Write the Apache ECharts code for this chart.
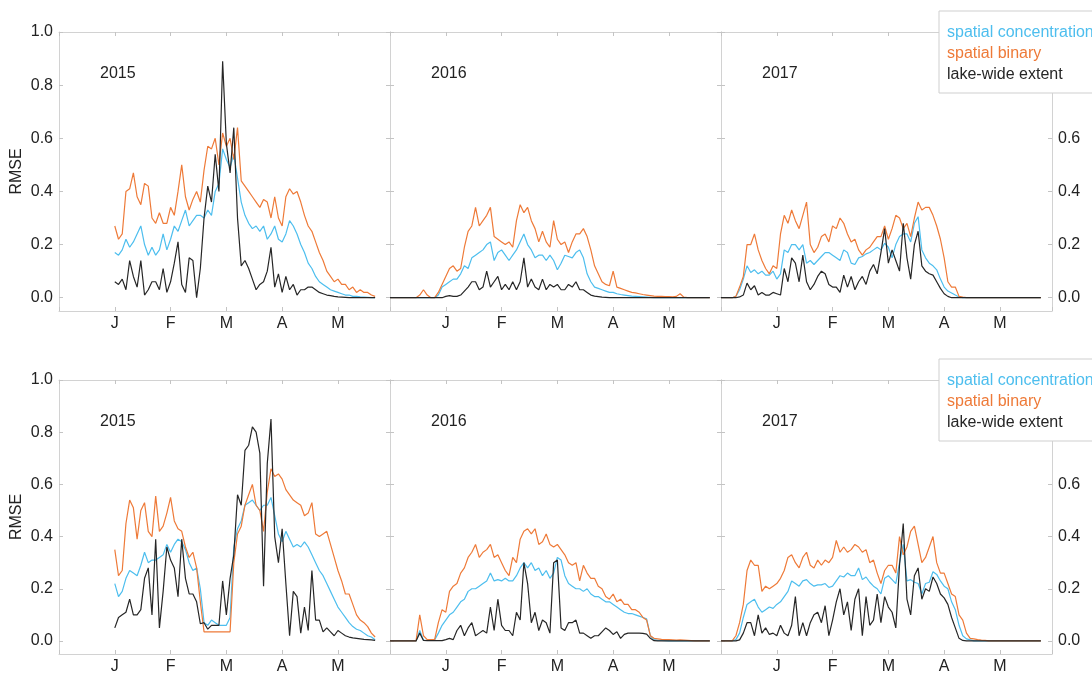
<!DOCTYPE html>
<html>
<head>
<meta charset="utf-8">
<script src="https://cdn.jsdelivr.net/npm/echarts@6/dist/echarts.min.js"></script>
<style>
  html, body { margin: 0; padding: 0; background: #ffffff; }
  #chart { width: 1092px; height: 675px; }
</style>
</head>
<body>
<div id="chart"></div>
<script>
// RMSE of three ice-cover products, winter seasons 2015-2017 (two scenarios, top and bottom rows).
// Values are sampled every DAY_STEP days on an axis running Dec 1 -> end of May.
const DAY_STEP = 2;
const years = ['2015', '2016', '2017'];
const monthLabels = ['J', 'F', 'M', 'A', 'M'];
const yTickValues = [0, 0.2, 0.4, 0.6, 0.8, 1.0];
const seriesNames = ['spatial concentration', 'spatial binary', 'lake-wide extent'];

// first sampled day of each season's curves
const start2015 = 30;
const start2016 = 0;
const start2017 = 0;

// ---------- upper row ----------
const conc15Top = [
  0.17,0.16,0.18,0.22,0.19,0.21,0.24,0.27,0.20,0.16,
  0.19,0.16,0.18,0.24,0.18,0.22,0.27,0.25,0.29,0.33,
  0.27,0.29,0.31,0.31,0.30,0.33,0.31,0.40,0.43,0.56,
  0.52,0.49,0.54,0.45,0.36,0.31,0.28,0.26,0.27,0.25,
  0.27,0.22,0.24,0.27,0.22,0.21,0.24,0.29,0.27,0.24,
  0.20,0.17,0.13,0.11,0.08,0.06,0.05,0.04,0.03,0.025,
  0.02,0.015,0.01,0.01,0.005,0.005,0.003,0.002,0.001,0,
  0];
const binary15Top = [
  0.27,0.22,0.24,0.40,0.41,0.47,0.38,0.35,0.43,0.42,
  0.30,0.28,0.32,0.28,0.28,0.34,0.31,0.40,0.50,0.38,
  0.33,0.37,0.40,0.36,0.48,0.57,0.56,0.60,0.50,0.62,
  0.57,0.60,0.52,0.64,0.44,0.42,0.40,0.38,0.36,0.34,
  0.37,0.36,0.30,0.38,0.30,0.27,0.38,0.41,0.39,0.40,
  0.36,0.31,0.27,0.25,0.21,0.17,0.14,0.10,0.08,0.06,
  0.07,0.05,0.05,0.03,0.04,0.02,0.03,0.02,0.02,0.01,
  0.005];
const extent15Top = [
  0.06,0.05,0.07,0.03,0.14,0.08,0.04,0.14,0.01,0.03,
  0.06,0.06,0.03,0.11,0.02,0.06,0.13,0.21,0.05,0.02,
  0.15,0.14,0.00,0.11,0.30,0.42,0.36,0.54,0.40,0.89,
  0.58,0.47,0.64,0.30,0.12,0.14,0.11,0.07,0.03,0.05,
  0.06,0.10,0.19,0.04,0.09,0.02,0.08,0.03,0.05,0.01,
  0.03,0.03,0.04,0.04,0.03,0.02,0.015,0.01,0.008,0.005,
  0.003,0.002,0.001,0,0,0,0,0,0,0,
  0];

const conc16Top = [
  0,0,0,0,0,0,0,0,0,0,
  0,0,0,0.01,0.04,0.05,0.06,0.07,0.07,0.09,
  0.12,0.11,0.15,0.16,0.17,0.18,0.20,0.21,0.14,0.17,
  0.18,0.16,0.14,0.16,0.18,0.21,0.24,0.20,0.18,0.15,
  0.16,0.16,0.14,0.16,0.14,0.105,0.13,0.16,0.155,0.15,
  0.17,0.18,0.15,0.09,0.06,0.04,0.035,0.03,0.025,0.02,
  0.02,0.015,0.012,0.01,0.008,0.006,0.005,0.004,0.003,0.002,
  0.001,0,0,0,0,0,0,0,0,0,
  0,0,0,0,0,0,0];
const binary16Top = [
  0,0,0,0,0,0,0,0,0.01,0.03,
  0.01,0,0,0.02,0.05,0.08,0.11,0.12,0.10,0.11,
  0.19,0.25,0.27,0.34,0.27,0.29,0.31,0.34,0.23,0.22,
  0.21,0.20,0.21,0.19,0.29,0.35,0.32,0.34,0.29,0.26,
  0.21,0.25,0.21,0.19,0.29,0.22,0.20,0.21,0.17,0.21,
  0.24,0.24,0.26,0.23,0.18,0.12,0.09,0.06,0.05,0.045,
  0.10,0.04,0.035,0.03,0.025,0.02,0.018,0.015,0.012,0.01,
  0.008,0.006,0.005,0.005,0.004,0.004,0.003,0.005,0.015,0.002,
  0,0,0,0,0,0,0];
const extent16Top = [
  0,0,0,0,0,0,0,0,0,0,
  0,0,0,0,0,0.005,0.008,0.005,0.005,0.01,
  0.025,0.04,0.06,0.06,0.03,0.04,0.10,0.04,0.06,0.08,
  0.03,0.05,0.03,0.06,0.03,0.06,0.15,0.04,0.07,0.04,
  0.03,0.07,0.03,0.05,0.04,0.05,0.03,0.03,0.05,0.04,
  0.06,0.03,0.03,0.02,0.01,0.006,0.004,0.002,0.001,0,
  0,0,0,0,0,0,0,0,0,0,
  0,0,0,0,0,0,0,0,0,0,
  0,0,0,0,0,0,0];

const conc17Top = [
  0,0,0,0,0.005,0.03,0.07,0.12,0.095,0.105,
  0.09,0.10,0.085,0.085,0.10,0.07,0.09,0.18,0.17,0.20,
  0.20,0.18,0.20,0.13,0.14,0.125,0.14,0.155,0.17,0.17,
  0.16,0.15,0.14,0.18,0.17,0.13,0.125,0.15,0.155,0.165,
  0.17,0.18,0.19,0.18,0.205,0.19,0.15,0.20,0.23,0.24,
  0.24,0.21,0.28,0.305,0.18,0.15,0.13,0.12,0.105,0.07,
  0.04,0.025,0.018,0.01,0.003,0,0,0,0,0,
  0,0,0,0,0,0,0,0,0,0,
  0,0,0,0,0,0,0];
const binary17Top = [
  0,0,0,0,0.005,0.04,0.08,0.20,0.20,0.24,
  0.18,0.14,0.11,0.09,0.12,0.11,0.24,0.31,0.28,0.33,
  0.29,0.26,0.31,0.36,0.20,0.17,0.19,0.23,0.24,0.21,
  0.27,0.26,0.30,0.28,0.24,0.21,0.22,0.18,0.16,0.18,
  0.19,0.21,0.23,0.23,0.27,0.22,0.26,0.31,0.30,0.26,
  0.28,0.23,0.30,0.36,0.33,0.34,0.34,0.31,0.27,0.22,
  0.15,0.06,0.04,0.04,0.005,0.002,0,0,0,0,
  0,0,0,0,0,0,0,0,0,0,
  0,0,0,0,0,0,0];
const extent17Top = [
  0,0,0,0,0,0.003,0.01,0.055,0.03,0.045,
  0.01,0.02,0.01,0.01,0.02,0.015,0.01,0.11,0.06,0.15,
  0.13,0.06,0.16,0.06,0.03,0.05,0.08,0.10,0.09,0.05,
  0.04,0.04,0.02,0.085,0.04,0.08,0.03,0.06,0.08,0.05,
  0.10,0.125,0.09,0.17,0.26,0.13,0.18,0.14,0.10,0.28,
  0.15,0.07,0.20,0.25,0.12,0.10,0.09,0.085,0.06,0.035,
  0.015,0.005,0,0,0,0,0,0,0,0,
  0,0,0,0,0,0,0,0,0,0,
  0,0,0,0,0,0,0];

// ---------- lower row ----------
const conc15Bot = [
  0.22,0.17,0.19,0.24,0.27,0.26,0.25,0.29,0.34,0.30,
  0.31,0.31,0.32,0.33,0.37,0.34,0.37,0.39,0.38,0.35,
  0.30,0.27,0.28,0.20,0.07,0.06,0.08,0.07,0.06,0.06,
  0.06,0.09,0.36,0.43,0.46,0.52,0.53,0.54,0.52,0.50,
  0.52,0.52,0.55,0.48,0.41,0.38,0.42,0.39,0.36,0.37,
  0.36,0.38,0.36,0.33,0.30,0.27,0.25,0.22,0.19,0.16,
  0.13,0.11,0.09,0.07,0.055,0.045,0.04,0.03,0.02,0.015,
  0.005];
const binary15Bot = [
  0.35,0.25,0.27,0.45,0.54,0.51,0.39,0.50,0.53,0.42,
  0.40,0.555,0.42,0.44,0.49,0.55,0.46,0.43,0.42,0.36,
  0.32,0.34,0.28,0.15,0.035,0.035,0.035,0.035,0.035,0.035,
  0.035,0.035,0.30,0.41,0.44,0.52,0.56,0.60,0.52,0.50,
  0.42,0.57,0.66,0.63,0.64,0.62,0.58,0.56,0.54,0.53,
  0.52,0.48,0.49,0.53,0.41,0.40,0.41,0.42,0.37,0.32,
  0.27,0.23,0.18,0.18,0.14,0.10,0.08,0.07,0.055,0.03,
  0.015];
const extent15Bot = [
  0.05,0.09,0.10,0.11,0.16,0.10,0.10,0.12,0.24,0.28,
  0.10,0.39,0.05,0.19,0.36,0.31,0.28,0.17,0.39,0.24,
  0.18,0.18,0.15,0.066,0.07,0.045,0.06,0.06,0.06,0.23,
  0.10,0.24,0.33,0.56,0.52,0.73,0.75,0.82,0.80,0.72,
  0.21,0.68,0.85,0.40,0.30,0.43,0.22,0.02,0.19,0.17,
  0.03,0.13,0.04,0.27,0.08,0.08,0.035,0.05,0.035,0.02,
  0.04,0.03,0.02,0.015,0.012,0.01,0.008,0.006,0.005,0.004,
  0.002];

const conc16Bot = [
  0,0,0,0,0,0,0,0,0.04,0.003,
  0.002,0.002,0.004,0.03,0.06,0.08,0.10,0.11,0.13,0.15,
  0.16,0.19,0.20,0.20,0.21,0.22,0.23,0.26,0.23,0.235,
  0.23,0.24,0.23,0.23,0.25,0.28,0.30,0.28,0.30,0.27,
  0.28,0.25,0.27,0.24,0.26,0.32,0.31,0.25,0.22,0.21,
  0.20,0.20,0.19,0.20,0.18,0.17,0.17,0.16,0.15,0.15,
  0.14,0.13,0.12,0.11,0.105,0.105,0.10,0.095,0.09,0.085,
  0.02,0.005,0.002,0.002,0.001,0,0,0,0,0,
  0,0,0,0,0,0,0];
const binary16Bot = [
  0,0,0,0,0,0,0,0,0.10,0.02,
  0.005,0.005,0.005,0.07,0.12,0.11,0.19,0.21,0.22,0.26,
  0.28,0.32,0.34,0.37,0.32,0.34,0.35,0.37,0.32,0.33,
  0.30,0.27,0.25,0.32,0.30,0.39,0.42,0.43,0.41,0.43,
  0.37,0.38,0.41,0.37,0.36,0.37,0.35,0.33,0.30,0.29,
  0.30,0.23,0.29,0.26,0.24,0.24,0.21,0.20,0.17,0.16,
  0.18,0.15,0.16,0.14,0.14,0.12,0.12,0.11,0.09,0.08,
  0.02,0.01,0.008,0.006,0.005,0.005,0.004,0.003,0.004,0.003,
  0.002,0.001,0,0,0,0,0];
const extent16Bot = [
  0,0,0,0,0,0,0,0,0.03,0.002,
  0.001,0.001,0.001,0.001,0.001,0.005,0.01,0.005,0.04,0.06,
  0.02,0.05,0.07,0.02,0.03,0.04,0.03,0.13,0.04,0.16,
  0.06,0.04,0.04,0.02,0.11,0.08,0.30,0.22,0.07,0.11,
  0.04,0.08,0.07,0.03,0.30,0.31,0.05,0.04,0.07,0.07,
  0.08,0.03,0.03,0.02,0.01,0.02,0.02,0.035,0.05,0.04,
  0.025,0.035,0.01,0.025,0.03,0.03,0.03,0.03,0.029,0.026,
  0.01,0.001,0,0,0,0,0,0,0,0,
  0,0,0,0,0,0,0];

const conc17Bot = [
  0,0,0,0,0.005,0.03,0.09,0.14,0.15,0.16,
  0.13,0.11,0.12,0.13,0.125,0.14,0.15,0.17,0.19,0.23,
  0.22,0.21,0.23,0.235,0.22,0.21,0.215,0.215,0.22,0.205,
  0.21,0.23,0.25,0.245,0.26,0.25,0.25,0.28,0.235,0.245,
  0.225,0.21,0.20,0.18,0.24,0.25,0.235,0.22,0.30,0.37,
  0.23,0.235,0.225,0.22,0.18,0.22,0.225,0.265,0.255,0.23,
  0.21,0.20,0.15,0.12,0.06,0.02,0.008,0.004,0,0,
  0,0,0,0,0,0,0,0,0,0,
  0,0,0,0,0,0,0];
const binary17Bot = [
  0,0,0,0,0.02,0.07,0.14,0.27,0.31,0.29,
  0.29,0.19,0.21,0.20,0.21,0.22,0.24,0.27,0.32,0.33,
  0.30,0.28,0.32,0.34,0.29,0.28,0.31,0.29,0.31,0.30,
  0.32,0.385,0.34,0.36,0.34,0.35,0.37,0.36,0.34,0.35,
  0.30,0.31,0.26,0.22,0.27,0.29,0.29,0.26,0.40,0.33,
  0.36,0.42,0.44,0.37,0.30,0.32,0.36,0.40,0.30,0.26,
  0.26,0.22,0.18,0.17,0.10,0.08,0.03,0.01,0.008,0.005,
  0.003,0.002,0,0,0,0,0,0,0,0,
  0,0,0,0,0,0,0];
const extent17Bot = [
  0,0,0,0,0,0.004,0.03,0.07,0.07,0.02,
  0.10,0.03,0.05,0.025,0.03,0.02,0.06,0.03,0.02,0.06,
  0.17,0.02,0.07,0.02,0.07,0.10,0.11,0.07,0.135,0.02,
  0.08,0.15,0.20,0.10,0.15,0.04,0.16,0.20,0.02,0.17,
  0.06,0.08,0.18,0.07,0.17,0.13,0.11,0.05,0.29,0.45,
  0.16,0.10,0.25,0.28,0.16,0.20,0.19,0.245,0.22,0.18,
  0.165,0.14,0.09,0.05,0.01,0.002,0,0,0,0,
  0,0,0,0,0,0,0,0,0,0,
  0,0,0,0,0,0,0];

// ---------- layout & style ----------
const FONT = '"Liberation Sans", Arial, Helvetica, sans-serif';
const TEXT_COLOR = '#222222';
const AXIS_COLOR = '#d2d2d2';
const LINE_COLORS = ['#4DBEEE', '#EE7A38', '#262626'];
const X_MAX = 178;
const MONTH_STEP = 30;
const COL_LEFT = [59, 390, 721];
const ROW_TOP = [32, 380];
const PANEL_W = 331;
const PANEL_H = [279, 280];
const LEGEND_TOP = [11, 359];

const panels = [
  { row: 0, col: 0, year: years[0], start: start2015, data: [conc15Top, binary15Top, extent15Top] },
  { row: 0, col: 1, year: years[1], start: start2016, data: [conc16Top, binary16Top, extent16Top] },
  { row: 0, col: 2, year: years[2], start: start2017, data: [conc17Top, binary17Top, extent17Top] },
  { row: 1, col: 0, year: years[0], start: start2015, data: [conc15Bot, binary15Bot, extent15Bot] },
  { row: 1, col: 1, year: years[1], start: start2016, data: [conc16Bot, binary16Bot, extent16Bot] },
  { row: 1, col: 2, year: years[2], start: start2017, data: [conc17Bot, binary17Bot, extent17Bot] }
];

function toPairs(start, values) {
  return values.map((v, i) => [start + i * DAY_STEP, v]);
}

function monthAt(v) {
  if (v % MONTH_STEP !== 0) return '';
  return monthLabels[v / MONTH_STEP - 1] || '';
}

const tickStyle = { show: true, inside: true, length: 4, lineStyle: { color: '#c4c4c4', width: 1 } };
const lineAxis = { show: true, onZero: false, lineStyle: { color: AXIS_COLOR, width: 1 } };
const labelText = { color: TEXT_COLOR, fontSize: 16, fontFamily: FONT };

const grid = panels.map(p => ({
  left: COL_LEFT[p.col], top: ROW_TOP[p.row], width: PANEL_W, height: PANEL_H[p.row]
}));

const xAxis = panels.flatMap((p, i) => [
  {
    gridIndex: i, type: 'value', position: 'bottom', min: 0, max: X_MAX, interval: MONTH_STEP,
    axisLine: lineAxis, axisTick: tickStyle, splitLine: { show: false },
    axisLabel: Object.assign({ margin: 5, formatter: monthAt, showMinLabel: true, showMaxLabel: true }, labelText)
  },
  {
    gridIndex: i, type: 'value', position: 'top', min: 0, max: X_MAX, interval: MONTH_STEP,
    axisLine: lineAxis, axisTick: tickStyle, splitLine: { show: false }, axisLabel: { show: false }
  }
]);

const yAxis = panels.flatMap((p, i) => [
  {
    gridIndex: i, type: 'value', position: 'left', min: -0.05, max: 1,
    axisLine: lineAxis,
    axisTick: Object.assign({ customValues: yTickValues }, tickStyle),
    splitLine: { show: false },
    axisLabel: Object.assign({ show: p.col === 0, margin: 6, customValues: yTickValues,
      formatter: v => v.toFixed(1) }, labelText),
    name: p.col === 0 ? 'RMSE' : '', nameLocation: 'middle', nameGap: 34,
    nameTextStyle: labelText
  },
  {
    gridIndex: i, type: 'value', position: 'right', min: -0.05, max: 1,
    axisLine: lineAxis,
    axisTick: Object.assign({ customValues: yTickValues }, tickStyle),
    splitLine: { show: false },
    axisLabel: Object.assign({ show: p.col === 2, margin: 6, customValues: yTickValues,
      formatter: v => v.toFixed(1) }, labelText)
  }
]);

const series = panels.flatMap((p, i) => p.data.map((vals, k) => ({
  name: seriesNames[k], type: 'line', xAxisIndex: 2 * i, yAxisIndex: 2 * i,
  data: toPairs(p.start, vals), symbol: 'none', showSymbol: false,
  lineStyle: { width: 1.2, color: LINE_COLORS[k] }, itemStyle: { color: LINE_COLORS[k] },
  emphasis: { disabled: true }, silent: true, animation: false, z: 2 + k
})));

const title = panels.map(p => ({
  text: p.year, left: COL_LEFT[p.col] + 41, top: ROW_TOP[p.row] + 34, padding: 0,
  textStyle: { fontSize: 16, fontWeight: 'normal', color: TEXT_COLOR, fontFamily: FONT }
}));

const legend = LEGEND_TOP.map(top => ({
  show: true, orient: 'vertical', left: 939, top: top, z: 10,
  backgroundColor: '#ffffff', borderColor: '#cfcfcf', borderWidth: 1,
  padding: [14, 20, 10, 3], itemGap: 5, itemWidth: 0, itemHeight: 16, icon: 'rect',
  selectedMode: false,
  data: seriesNames.map((n, k) => ({ name: n, textStyle: { color: LINE_COLORS[k] } })),
  textStyle: { fontSize: 16, fontFamily: FONT }
}));

const chart = echarts.init(document.getElementById('chart'), null, { renderer: 'canvas' });
chart.setOption({
  backgroundColor: '#ffffff',
  animation: false,
  title, legend, grid, xAxis, yAxis, series
});
</script>
</body>
</html>
